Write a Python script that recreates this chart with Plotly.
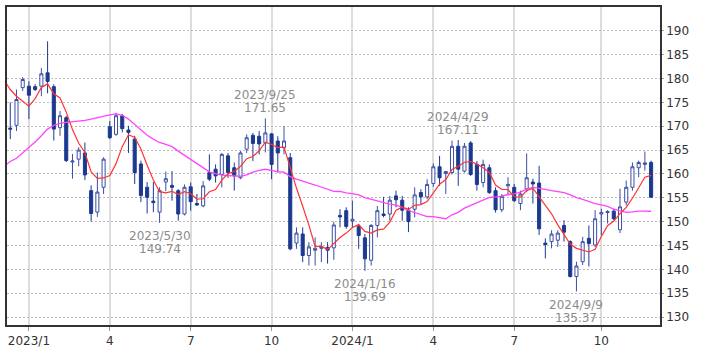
import pandas as pd
import plotly.graph_objects as go

# weekly candles, week starting Monday
start_week = "2022-12-12"
n_weeks = 104

opens = [169.6, 170.2, 178.1, 178.4, 178.3, 178.4, 181.2, 178.3, 169.7, 171.8,
         162.5, 163.1, 164.4, 156.5, 152.0, 157.2, 169.9, 168.3, 172.2, 169.2,
         167.3, 162.1, 157.2, 154.3, 152.0, 158.3, 157.6, 156.5, 151.6, 157.3,
         153.8, 153.3, 160.3, 161.0, 159.9, 163.8, 161.3, 159.2, 165.2, 168.1,
         167.9, 166.5, 168.4, 166.9, 165.5, 163.4, 145.5, 147.4, 142.9, 144.0,
         144.4, 144.6, 144.5, 151.3, 152.3, 150.1, 149.0, 146.6, 141.9, 149.2,
         151.6, 151.6, 155.4, 154.5, 152.4, 152.6, 156.1, 155.2, 158.0, 161.5,
         160.1, 160.3, 165.8, 160.6, 166.5, 162.0, 158.2, 161.3, 156.5, 152.5,
         157.5, 157.2, 153.8, 156.9, 158.3, 158.1, 145.5, 145.8, 146.1, 149.2,
         145.8, 138.5, 141.6, 146.5, 145.1, 151.6, 151.9, 152.2, 148.3, 154.1,
         157.2, 161.3, 162.0, 162.4]
highs = [175.0, 177.7, 180.3, 179.4, 178.8, 182.2, 187.8, 178.8, 173.2, 172.2,
         164.2, 165.6, 166.6, 157.6, 160.3, 163.5, 171.1, 172.8, 172.6, 170.1,
         168.0, 162.8, 158.3, 158.3, 157.2, 160.5, 160.6, 156.8, 157.8, 158.2,
         155.8, 158.5, 164.1, 162.0, 164.4, 164.4, 162.4, 164.8, 168.3, 168.6,
         169.0, 171.65, 168.6, 167.9, 170.0, 164.4, 148.8, 148.8, 145.7, 146.7,
         145.7, 145.7, 150.0, 152.6, 153.0, 154.4, 149.5, 147.4, 149.5, 153.3,
         155.2, 155.4, 156.5, 155.4, 153.0, 157.2, 156.8, 158.9, 162.2, 163.8,
         160.6, 167.0, 167.11, 166.5, 166.9, 162.7, 163.0, 162.0, 157.2, 155.8,
         159.3, 157.9, 156.5, 164.3, 159.0, 161.7, 146.5, 148.2, 148.2, 150.3,
         146.1, 141.6, 146.8, 149.2, 152.4, 152.7, 152.4, 152.7, 156.9, 158.6,
         162.4, 162.8, 164.7, 162.8]
lows = [167.3, 169.0, 177.4, 171.5, 177.4, 176.3, 176.9, 167.0, 168.0, 162.5,
        159.0, 161.6, 158.7, 150.0, 151.0, 155.8, 167.3, 168.0, 168.7, 164.4,
        157.9, 154.1, 151.7, 152.0, 149.74, 156.4, 154.4, 150.2, 151.3, 152.3,
        153.3, 153.0, 158.5, 158.2, 157.2, 159.2, 156.5, 158.9, 164.4, 162.7,
        164.1, 164.5, 158.9, 160.3, 164.1, 144.0, 144.3, 141.5, 140.8, 140.8,
        141.5, 141.2, 142.0, 148.8, 148.5, 148.8, 144.3, 139.69, 140.8, 146.7,
        150.9, 150.2, 153.0, 150.2, 147.8, 150.9, 153.7, 154.7, 157.3, 157.5,
        155.8, 159.9, 157.5, 160.3, 159.6, 156.5, 157.2, 155.8, 151.9, 152.0,
        155.5, 154.1, 152.4, 156.2, 153.8, 147.2, 142.3, 144.4, 144.7, 145.8,
        138.3, 135.37, 140.9, 140.6, 144.7, 147.2, 149.6, 150.3, 147.6, 153.4,
        156.5, 159.3, 160.7, 155.1]
closes = [169.4, 175.6, 179.8, 176.5, 177.7, 181.0, 179.4, 169.4, 172.2, 162.8,
          162.7, 165.0, 159.8, 151.7, 156.2, 163.1, 167.6, 172.2, 169.5, 168.7,
          160.3, 155.5, 155.1, 154.0, 156.5, 159.0, 157.2, 151.6, 157.2, 154.2,
          153.5, 157.5, 158.9, 159.6, 164.1, 160.3, 159.6, 164.4, 167.6, 166.4,
          166.3, 168.6, 162.0, 164.4, 166.9, 144.3, 147.6, 142.9, 144.7, 144.4,
          144.7, 144.0, 149.3, 151.0, 149.0, 150.5, 147.1, 142.2, 149.2, 152.3,
          151.3, 154.5, 154.6, 152.4, 150.0, 155.6, 155.2, 157.8, 161.5, 159.2,
          160.5, 165.8, 161.0, 165.8, 159.9, 157.8, 162.0, 156.1, 152.5, 155.3,
          157.8, 154.4, 155.8, 159.2, 157.9, 148.5, 145.2, 147.4, 147.6, 147.8,
          138.5, 140.7, 145.8, 145.4, 150.6, 151.9, 152.1, 150.6, 153.1, 157.2,
          161.5, 162.4, 162.3, 155.1]

# moving-average values before enough weeks are on the chart,
# first value belongs to the week before the first candle
ma5_head = [179.7, 177.7, 176.3, 175.3, 174.2]
ma26_head = [161.6, 162.6, 163.3, 164.4, 165.6, 166.7, 168.0, 169.4, 170.2, 170.6,
             170.8, 170.9, 171.0, 171.25, 171.5, 171.8, 172.2, 172.4, 172.6, 172.3,
             171.5, 170.4, 169.2, 168.1, 167.3, 166.6]

annotations_data = [
    ("2023-05-29", 149.74, "2023/5/30", "low"),
    ("2023-09-25", 171.65, "2023/9/25", "high"),
    ("2024-01-15", 139.69, "2024/1/16", "low"),
    ("2024-04-29", 167.11, "2024/4/29", "high"),
    ("2024-09-09", 135.37, "2024/9/9", "low"),
]

tick_dates = ["2023-01-02", "2023-04-03", "2023-07-03", "2023-10-02",
              "2024-01-01", "2024-04-01", "2024-07-01", "2024-10-07"]
tick_text = ["2023/1", "4", "7", "10", "2024/1", "4", "7", "10"]
y_ticks = [130, 135, 140, 145, 150, 155, 160, 165, 170, 175, 180, 185, 190]

dates = pd.date_range(start_week, periods=n_weeks, freq="7D")
close_s = pd.Series(closes, index=dates)
ma5 = close_s.rolling(5).mean()
ma26 = close_s.rolling(26).mean()
prev_week = dates[0] - pd.Timedelta(days=7)
ma_dates = [prev_week] + list(dates)
ma5_vals = ma5_head + list(ma5.values[4:])
ma26_vals = ma26_head + list(ma26.values[25:])

FONT = "DejaVu Sans"
fig = go.Figure()
fig.add_trace(go.Candlestick(
    x=dates, open=opens, high=highs, low=lows, close=closes,
    increasing=dict(line=dict(color="#3b4fa3", width=1), fillcolor="#ffffff"),
    decreasing=dict(line=dict(color="#1c3990", width=1), fillcolor="#1c3990"),
    whiskerwidth=0, hoverinfo="skip", showlegend=False,
))
fig.add_trace(go.Scatter(x=ma_dates, y=ma26_vals, mode="lines",
                         line=dict(color="#ff44ff", width=1.3), showlegend=False,
                         hoverinfo="skip"))
fig.add_trace(go.Scatter(x=ma_dates, y=ma5_vals, mode="lines",
                         line=dict(color="#ff3333", width=1.2), showlegend=False,
                         hoverinfo="skip"))

ann_font = dict(family=FONT, size=12, color="#8c8c8c")
for d, v, label, kind in annotations_data:
    if kind == "high":
        fig.add_annotation(x=d, y=v, text=label, showarrow=False, yanchor="bottom",
                           yshift=14, font=ann_font)
        fig.add_annotation(x=d, y=v, text=f"{v:.2f}", showarrow=False, yanchor="bottom",
                           yshift=1.5, font=ann_font)
    else:
        fig.add_annotation(x=d, y=v, text=label, showarrow=False, yanchor="top",
                           yshift=-4.5, font=ann_font)
        fig.add_annotation(x=d, y=v, text=f"{v:.2f}", showarrow=False, yanchor="top",
                           yshift=-17.5, font=ann_font)

fig.update_layout(
    width=709, height=354,
    margin=dict(l=5, r=49, t=5, b=29),
    paper_bgcolor="#ffffff", plot_bgcolor="#ffffff",
    font=dict(family=FONT, size=11, color="#333333"),
    showlegend=False,
    xaxis=dict(
        type="date", range=["2022-12-08 08:00", "2024-12-12"],
        tickvals=tick_dates, ticktext=tick_text, ticks="outside", ticklen=4,
        tickcolor="#999999",
        showgrid=True, gridcolor="#dddddd", gridwidth=1.5,
        showline=True, linecolor="#333333", linewidth=1.5, mirror=True,
        rangeslider=dict(visible=False), zeroline=False,
        tickfont=dict(family=FONT, size=12, color="#333333"),
    ),
    yaxis=dict(
        side="right", range=[128.33, 195], tickvals=y_ticks,
        showgrid=True, gridcolor="#bdbdbd", griddash="2px,2px", gridwidth=1,
        showline=True, linecolor="#333333", linewidth=1.5, mirror=True,
        ticks="outside", ticklen=2, tickcolor="#999999", zeroline=False,
        tickfont=dict(family=FONT, size=12, color="#333333"),
    ),
)

fig.write_html("out.html")
